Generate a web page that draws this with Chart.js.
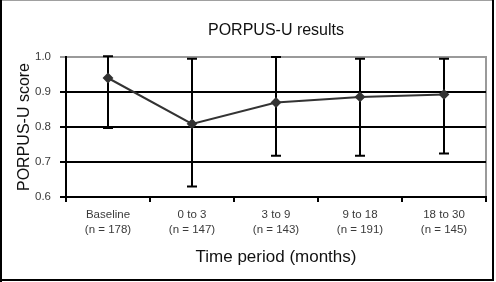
<!DOCTYPE html>
<html>
<head>
<meta charset="utf-8">
<script src="https://cdn.jsdelivr.net/npm/chart.js@4/dist/chart.umd.min.js"></script>
<style>
  html, body { margin: 0; padding: 0; background: #fff; }
  #wrap { width: 496px; height: 282px; position: relative; }
</style>
</head>
<body>
<div id="wrap"><canvas id="c" width="496" height="282"></canvas></div>
<script>
const categories = [["Baseline", "(n = 178)"], ["0 to 3", "(n = 147)"], ["3 to 9", "(n = 143)"], ["9 to 18", "(n = 191)"], ["18 to 30", "(n = 145)"]];
const meanScores = [0.94, 0.809, 0.870, 0.886, 0.893];
const lowerBounds = [0.797, 0.630, 0.718, 0.718, 0.724];
const upperBounds = [1.002, 0.995, 1.000, 0.995, 0.995];
const yTicks = [0.6, 0.7, 0.8, 0.9, 1.0];
const chartTitle = "PORPUS-U results";
const yTitle = "PORPUS-U score";
const xTitle = "Time period (months)";

const FONT = "'Liberation Sans', Arial, Helvetica, sans-serif";

const errorBars = {
  id: 'errorBars',
  beforeDatasetsDraw(chart) {
    const {ctx, scales: {x, y}} = chart;
    ctx.save();
    ctx.strokeStyle = '#000';
    ctx.lineWidth = 2;
    const cap = 5;
    meanScores.forEach((m, i) => {
      const px = Math.round(x.getPixelForValue(i));
      const yl = y.getPixelForValue(lowerBounds[i]);
      const yh = y.getPixelForValue(upperBounds[i]);
      ctx.beginPath();
      ctx.moveTo(px, yl); ctx.lineTo(px, yh);
      ctx.moveTo(px - cap, yh); ctx.lineTo(px + cap, yh);
      ctx.moveTo(px - cap, yl); ctx.lineTo(px + cap, yl);
      ctx.stroke();
    });
    ctx.restore();
  }
};

const decorations = {
  id: 'decorations',
  beforeDraw(chart) {
    const {ctx, chartArea: a} = chart;
    ctx.save();
    ctx.strokeStyle = '#9a9a9a';
    ctx.lineWidth = 2;
    ctx.beginPath();
    ctx.moveTo(a.right, a.top - 1); ctx.lineTo(a.right, a.bottom);
    ctx.stroke();
    ctx.restore();
  },
  afterDraw(chart) {
    const {ctx, chartArea: a} = chart;
    ctx.save();
    ctx.fillStyle = '#111';
    ctx.font = "16px " + FONT;
    ctx.textAlign = 'center';
    ctx.textBaseline = 'middle';
    ctx.fillText(chartTitle, (a.left + a.right) / 2, 31);
    ctx.fillStyle = '#a0a0a0';
    ctx.fillRect(0, 0, 494, 1);
    ctx.fillStyle = '#000';
    ctx.fillRect(0, 0, 2, 282);
    ctx.fillRect(0, 279, 494, 2);
    ctx.fillRect(492, 0, 2, 281);
    ctx.restore();
  }
};

new Chart(document.getElementById('c'), {
  type: 'line',
  data: {
    labels: categories,
    datasets: [{
      data: meanScores,
      borderColor: '#333',
      backgroundColor: '#333',
      borderWidth: 2,
      pointStyle: 'rectRot',
      pointRadius: 4,
      pointBackgroundColor: '#333',
      pointBorderColor: '#333',
      tension: 0
    }]
  },
  options: {
    responsive: false,
    animation: false,
    events: [],
    layout: { padding: { top: 57, right: 10, left: 0, bottom: 0 } },
    plugins: { legend: { display: false }, title: { display: false }, tooltip: { enabled: false } },
    scales: {
      x: {
        type: 'category',
        offset: true,
        grid: { offset: true, drawOnChartArea: false, drawTicks: true, tickLength: 5, color: '#000', lineWidth: 2 },
        border: { display: true, color: '#000', width: 2 },
        ticks: { color: '#3a3a3a', font: { family: FONT, size: 11.5, lineHeight: 1.3 }, padding: 5, maxRotation: 0, autoSkip: false },
        title: { display: true, text: xTitle, color: '#111', font: { family: FONT, size: 17 }, padding: { top: 0, bottom: 14 } },
        afterFit(s) { s.height = 85; }
      },
      y: {
        min: 0.6, max: 1.0,
        afterBuildTicks(s) { s.ticks = yTicks.map(v => ({ value: v })); },
        grid: {
          color: (c) => (c.tick && Math.abs(c.tick.value - 1.0) < 1e-6) ? '#9a9a9a' : '#000',
          lineWidth: 2, tickLength: 6, drawTicks: true
        },
        border: { display: true, color: '#000', width: 2 },
        ticks: { color: '#3a3a3a', font: { family: FONT, size: 11.5 }, padding: 9, callback: (v) => Number(v).toFixed(1) },
        title: { display: true, text: yTitle, color: '#111', font: { family: FONT, size: 16 }, padding: { top: 15, bottom: 0 } },
        afterFit(s) { s.width = 66; }
      }
    }
  },
  plugins: [errorBars, decorations]
});
</script>
</body>
</html>
